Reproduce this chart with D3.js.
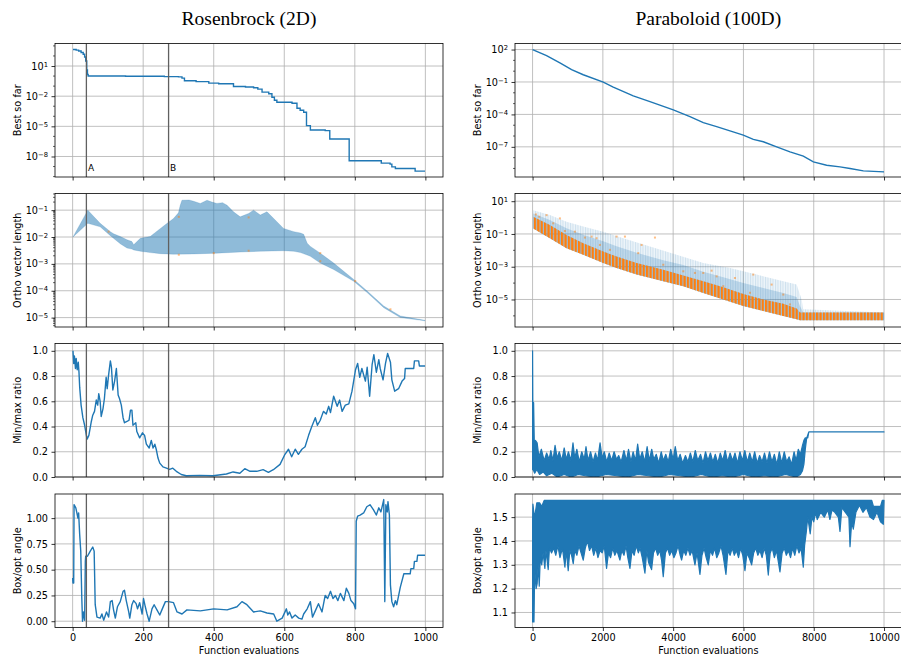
<!DOCTYPE html>
<html lang="en">
<head>
    <meta charset="UTF-8">
    <title>Rosenbrock (2D) / Paraboloid (100D)</title>
    <script src="https://cdn.jsdelivr.net/npm/d3@7/dist/d3.min.js"></script>
    <style>
        body { margin: 0; background: #fff; }
        text { font-family: "DejaVu Sans", sans-serif; fill: #000; }
        .title { font-family: "Liberation Serif", serif; font-size: 19.5px; }
    </style>
</head>
<body>
<svg id="main-svg" width="901" height="660" xmlns="http://www.w3.org/2000/svg"></svg>

<script>
    'use strict';

    /* ---------- data ---------- */
    const titles = ['Rosenbrock (2D)', 'Paraboloid (100D)'];
    const rowLabels = ['Best so far', 'Ortho vector length', 'Min/max ratio', 'Box/opt angle'];
    const xLabel = 'Function evaluations';
    const evalTicksLeft = [0, 200, 400, 600, 800, 1000];
    const evalTicksRight = [0, 2000, 4000, 6000, 8000, 10000];
    const markerEvals = [39, 272];
    const markerNames = ['A', 'B'];

    // Rosenbrock, best so far: [evaluation, log10(value)]
    const rbBest = [[1, 2.64], [10, 2.58], [17, 2.5], [24, 2.35], [30, 2.17], [34, 1.9], [37, 1.5], [40, 0.6], [42, 0.15],
        [44, 0.0], [150, -0.02], [260, -0.06], [300, -0.08], [310, -0.2], [317, -0.46], [350, -0.55], [386, -0.7],
        [414, -0.76], [456, -1.03], [490, -1.08], [513, -1.16], [525, -1.3], [537, -1.6], [556, -1.76], [565, -2.1],
        [572, -2.4], [579, -2.6], [622, -2.7], [636, -3.2], [645, -3.4], [655, -3.6], [663, -4.93], [674, -5.36],
        [716, -5.43], [729, -6.26], [784, -8.43], [875, -8.66], [900, -8.76], [905, -9.03], [915, -9.2], [971, -9.46],
        [999, -9.46]];

    // Rosenbrock, ortho vector length band: [evaluation, log10(upper)] and [evaluation, log10(lower)]
    const rbOrthoHi = [[1, -2.0], [43, -1.0], [78, -1.49], [107, -1.8], [116, -1.88], [135, -1.98], [154, -2.1], [168, -2.17],
        [173, -2.29], [192, -2.05], [220, -1.98], [249, -1.68], [268, -1.49], [286, -1.31], [300, -1.1], [305, -0.82],
        [310, -0.63], [330, -0.62], [343, -0.67], [362, -0.75], [381, -0.63], [395, -0.7], [409, -0.75], [425, -0.72],
        [438, -0.82], [456, -1.06], [475, -1.25], [499, -1.12], [513, -1.0], [532, -1.18], [551, -1.06], [570, -1.31],
        [598, -1.68], [627, -1.8], [646, -1.85], [655, -1.9], [665, -2.23], [674, -2.35], [702, -2.6], [740, -2.97],
        [797, -3.58], [835, -4.01], [882, -4.57], [929, -4.94], [999, -5.1]];
    const rbOrthoLo = [[1, -2.0], [43, -1.49], [78, -1.62], [107, -1.95], [116, -2.05], [135, -2.25], [154, -2.41], [168, -2.45],
        [173, -2.48], [192, -2.53], [220, -2.58], [249, -2.62], [286, -2.64], [343, -2.63], [409, -2.6], [475, -2.56],
        [532, -2.53], [598, -2.51], [627, -2.53], [646, -2.58], [665, -2.67], [674, -2.72], [702, -2.97], [740, -3.21],
        [797, -3.65], [835, -4.07], [882, -4.63], [929, -5.0], [999, -5.12]];
    const rbOrthoDots = [[102, -1.8], [301, -1.25], [301, -2.66], [400, -2.6], [499, -1.27], [499, -2.51], [702, -2.6],
        [702, -2.9], [801, -3.64], [901, -4.69]];

    // Rosenbrock, min/max ratio: [evaluation, value]
    const rbRatio = [[1, 1.0], [3, 0.9], [5, 0.96], [8, 0.86], [10, 0.94], [13, 0.85], [16, 0.91], [18, 0.83], [20, 0.71],
        [24, 0.57], [29, 0.47], [34, 0.41], [39, 0.33], [41, 0.3], [46, 0.33], [53, 0.44], [57, 0.49], [62, 0.52],
        [67, 0.61], [71, 0.57], [74, 0.66], [78, 0.6], [81, 0.48], [86, 0.54], [90, 0.62], [95, 0.79], [98, 0.7],
        [102, 0.81], [107, 0.92], [110, 0.87], [114, 0.69], [119, 0.76], [124, 0.86], [129, 0.65], [133, 0.62],
        [138, 0.57], [143, 0.47], [147, 0.43], [154, 0.44], [160, 0.45], [164, 0.53], [168, 0.53], [171, 0.41],
        [179, 0.43], [182, 0.36], [190, 0.31], [198, 0.35], [204, 0.33], [209, 0.26], [217, 0.23], [223, 0.29],
        [228, 0.23], [233, 0.26], [237, 0.22], [242, 0.15], [247, 0.11], [256, 0.08], [266, 0.07], [275, 0.06],
        [284, 0.07], [294, 0.045], [308, 0.02], [322, 0.01], [360, 0.013], [398, 0.01], [436, 0.024], [455, 0.04],
        [474, 0.03], [488, 0.066], [503, 0.045], [522, 0.045], [540, 0.058], [555, 0.037], [569, 0.058], [588, 0.1],
        [602, 0.18], [612, 0.22], [621, 0.16], [631, 0.22], [640, 0.18], [650, 0.22], [659, 0.24], [669, 0.33],
        [678, 0.4], [688, 0.47], [694, 0.41], [702, 0.45], [711, 0.52], [719, 0.5], [726, 0.56], [731, 0.51],
        [740, 0.64], [750, 0.56], [757, 0.61], [764, 0.52], [773, 0.57], [783, 0.58], [792, 0.68], [802, 0.85],
        [808, 0.9], [814, 0.79], [820, 0.86], [830, 0.76], [835, 0.87], [842, 0.64], [849, 0.89], [854, 0.97],
        [861, 0.83], [868, 0.93], [872, 0.86], [880, 0.77], [887, 0.9], [893, 0.98], [901, 0.91], [905, 0.77],
        [913, 0.68], [924, 0.7], [934, 0.76], [941, 0.78], [943, 0.86], [967, 0.86], [969, 0.92], [981, 0.92],
        [983, 0.88], [999, 0.88]];

    // Rosenbrock, box/opt angle: [evaluation, value]
    const rbAngle = [[0, 0.42], [1, 0.37], [3, 0.37], [4, 1.13], [9, 1.1], [12, 1.05], [15, 1.0], [17, 1.05], [20, 0.84],
        [23, 0.68], [26, 0.22], [28, 0.0], [31, 0.09], [34, 0.01], [36, 0.58], [37, 0.63], [42, 0.63], [50, 0.68],
        [57, 0.72], [61, 0.68], [64, 0.16], [69, 0.04], [78, 0.03], [83, 0.07], [88, 0.01], [96, 0.09], [102, 0.04],
        [107, 0.19], [112, 0.2], [116, 0.11], [121, 0.03], [127, 0.14], [135, 0.19], [143, 0.29], [147, 0.3],
        [152, 0.2], [159, 0.09], [162, 0.03], [168, 0.16], [173, 0.2], [180, 0.17], [184, 0.12], [190, 0.18],
        [197, 0.07], [201, 0.22], [206, 0.14], [211, 0.07], [217, 0.0], [225, 0.12], [231, 0.16], [239, 0.11],
        [247, 0.06], [253, 0.11], [263, 0.19], [272, 0.19], [286, 0.18], [296, 0.09], [310, 0.07], [324, 0.11],
        [362, 0.1], [400, 0.12], [438, 0.11], [466, 0.14], [480, 0.19], [494, 0.16], [513, 0.09], [532, 0.1],
        [551, 0.08], [570, 0.07], [579, 0.0], [594, 0.03], [606, 0.12], [610, 0.06], [615, 0.09], [622, 0.03],
        [631, 0.06], [641, 0.03], [650, 0.02], [655, 0.07], [665, 0.12], [674, 0.19], [680, 0.04], [688, 0.1],
        [697, 0.17], [707, 0.09], [716, 0.25], [723, 0.22], [731, 0.29], [738, 0.22], [745, 0.25], [752, 0.2],
        [759, 0.27], [769, 0.2], [776, 0.32], [783, 0.27], [789, 0.2], [797, 0.17], [802, 0.12], [804, 0.97],
        [808, 1.02], [815, 1.03], [825, 1.05], [834, 1.11], [843, 1.13], [853, 1.08], [861, 1.03], [868, 1.1],
        [874, 1.06], [882, 1.18], [885, 0.19], [888, 1.13], [892, 1.06], [894, 1.16], [898, 1.03], [901, 0.35],
        [905, 0.19], [910, 0.14], [915, 0.2], [919, 0.16], [929, 0.33], [939, 0.46], [957, 0.46], [959, 0.51],
        [967, 0.51], [969, 0.58], [976, 0.58], [978, 0.64], [999, 0.64]];

    // Paraboloid, best so far: [evaluation, log10(value)]
    const pbBest = [[0, 2.0], [398, 1.44], [778, 0.76], [1110, 0.14], [1442, -0.33], [2011, -1.01], [2296, -1.47],
        [2865, -2.28], [3340, -2.81], [4004, -3.58], [4478, -4.2], [4858, -4.76], [5237, -5.13], [5617, -5.53],
        [5996, -5.91], [6281, -6.31], [6565, -6.53], [6945, -7.0], [7325, -7.46], [7704, -7.86], [7989, -8.39],
        [8368, -8.7], [8748, -8.85], [9032, -9.0], [9412, -9.22], [10000, -9.32]];

    // Paraboloid, ortho vector length: orange spread (lo/hi) and the blue haze above it, log10 values
    const pbOrangeLo = [[17, -0.66], [492, -1.26], [966, -1.87], [1441, -2.27], [2010, -2.78], [2390, -3.08], [2960, -3.48],
        [3719, -3.89], [4288, -4.19], [4857, -4.6], [5426, -5.0], [5996, -5.4], [6565, -5.71], [7134, -6.01],
        [7513, -6.21], [7608, -6.27], [10000, -6.27]];
    const pbOrangeHi = [[17, 0.05], [492, -0.45], [966, -1.06], [1441, -1.56], [2010, -2.07], [2390, -2.38], [2960, -2.78],
        [3719, -3.18], [4288, -3.53], [4857, -3.89], [5426, -4.25], [5996, -4.66], [6565, -5.0], [7134, -5.26],
        [7513, -5.55], [7608, -5.8], [10000, -5.8]];
    const pbHazeMid = [[17, 0.25], [492, -0.15], [966, -0.65], [1441, -1.05], [2010, -1.45], [2390, -1.75], [2960, -2.15],
        [3719, -2.6], [4288, -2.9], [4857, -3.3], [5426, -3.65], [5996, -4.0], [6565, -4.3], [7134, -4.6],
        [7513, -4.85], [7608, -5.4], [7700, -5.8], [10000, -5.8]];
    const pbHazeTop = [[17, 0.45], [492, 0.15], [966, -0.25], [1441, -0.55], [2010, -0.86], [2580, -1.26], [3340, -1.77],
        [4099, -2.27], [4857, -2.78], [5616, -3.08], [6375, -3.48], [7134, -3.89], [7513, -4.09], [7655, -5.0],
        [7700, -5.6], [10000, -5.8]];
    const pbOrthoDots = [[94, 0.19], [189, 0.05], [398, 0.15], [588, -0.35], [778, -0.05], [920, -0.82], [1204, -0.86],
        [1489, -1.22], [1679, -1.16], [1821, -1.26], [1916, -1.67], [2201, -1.97], [2390, -1.16], [2628, -1.16],
        [3102, -1.67], [3007, -2.17], [3482, -1.22], [3719, -2.88], [4288, -3.28], [4620, -3.38], [4857, -3.38],
        [5094, -3.24], [5237, -3.59], [5426, -4.19], [5758, -3.69], [6280, -3.48], [6802, -4.09], [6186, -4.59],
        [7134, -4.7], [7324, -5.3]];

    // Paraboloid, min/max ratio: upper and lower edge of the noisy trace
    const pbRatioHi = [[0, 0.06], [0, 1.0], [12, 0.3], [30, 0.59], [50, 0.25], [80, 0.29], [130, 0.27], [180, 0.16],
        [250, 0.22], [330, 0.13], [400, 0.19], [470, 0.14], [520, 0.21], [580, 0.13], [640, 0.25], [700, 0.15],
        [760, 0.2], [830, 0.13], [900, 0.23], [960, 0.14], [1020, 0.2], [1090, 0.13], [1150, 0.27], [1200, 0.15],
        [1260, 0.22], [1330, 0.12], [1400, 0.2], [1470, 0.14], [1520, 0.24], [1580, 0.13], [1650, 0.2], [1720, 0.12],
        [1790, 0.19], [1850, 0.13], [1920, 0.27], [1980, 0.15], [2040, 0.2], [2110, 0.12], [2180, 0.19], [2250, 0.13],
        [2320, 0.2], [2390, 0.14], [2450, 0.17], [2520, 0.12], [2600, 0.21], [2670, 0.13], [2730, 0.22], [2800, 0.12],
        [2860, 0.2], [2930, 0.13], [2990, 0.26], [3050, 0.14], [3120, 0.2], [3190, 0.12], [3260, 0.24], [3320, 0.13],
        [3390, 0.22], [3450, 0.14], [3520, 0.18], [3590, 0.11], [3660, 0.2], [3720, 0.13], [3790, 0.18], [3860, 0.12],
        [3930, 0.22], [4000, 0.14], [4060, 0.24], [4130, 0.13], [4200, 0.18], [4270, 0.11], [4350, 0.17], [4420, 0.12],
        [4490, 0.19], [4560, 0.12], [4630, 0.21], [4700, 0.13], [4780, 0.18], [4850, 0.11], [4920, 0.2], [4990, 0.13],
        [5060, 0.19], [5130, 0.12], [5200, 0.18], [5270, 0.11], [5340, 0.19], [5410, 0.13], [5480, 0.21], [5550, 0.12],
        [5620, 0.19], [5690, 0.13], [5760, 0.19], [5830, 0.11], [5900, 0.2], [5970, 0.13], [6040, 0.21], [6110, 0.12],
        [6180, 0.19], [6250, 0.12], [6320, 0.2], [6390, 0.11], [6460, 0.17], [6530, 0.12], [6600, 0.19], [6670, 0.11],
        [6740, 0.2], [6810, 0.12], [6880, 0.18], [6950, 0.1], [7020, 0.2], [7090, 0.11], [7160, 0.2], [7230, 0.12],
        [7300, 0.16], [7370, 0.1], [7440, 0.2], [7500, 0.13], [7560, 0.22], [7620, 0.18], [7680, 0.25], [7720, 0.29],
        [7760, 0.31], [7830, 0.31], [7860, 0.357], [10000, 0.357]];
    const pbRatioLo = [[0, 0.06], [30, 0.05], [60, 0.03], [120, 0.06], [200, 0.02], [300, 0.04], [400, 0.01], [550, 0.03],
        [700, 0.0], [900, 0.02], [1100, 0.0], [1300, 0.02], [1500, 0.01], [1800, 0.0], [2100, 0.02], [2400, 0.01],
        [2700, 0.0], [3000, 0.02], [3300, 0.01], [3600, 0.0], [3900, 0.02], [4200, 0.01], [4500, 0.0], [4800, 0.02],
        [5100, 0.0], [5400, 0.01], [5700, 0.0], [6000, 0.02], [6300, 0.0], [6600, 0.01], [6900, 0.0], [7200, 0.02],
        [7500, 0.0], [7620, 0.02], [7680, 0.05], [7720, 0.1], [7760, 0.22], [7800, 0.31], [7860, 0.357]];

    // Paraboloid, box/opt angle: upper and lower edge of the noisy trace
    const pbAngleHi = [[0, 1.06], [0, 1.48], [10, 1.555], [50, 1.5], [80, 1.52], [120, 1.56], [200, 1.56], [260, 1.545],
        [330, 1.57], [9650, 1.57], [9700, 1.545], [9900, 1.545], [9950, 1.57], [10000, 1.57]];
    const pbAngleLo = [[0, 1.06], [40, 1.06], [60, 1.28], [100, 1.2], [130, 1.22], [160, 1.3], [190, 1.21], [220, 1.33],
        [260, 1.3], [300, 1.35], [350, 1.285], [380, 1.36], [445, 1.28], [480, 1.37], [540, 1.35], [600, 1.37],
        [660, 1.34], [720, 1.38], [780, 1.33], [850, 1.37], [920, 1.29], [960, 1.36], [1014, 1.275], [1060, 1.36],
        [1110, 1.34], [1157, 1.305], [1200, 1.36], [1260, 1.34], [1320, 1.38], [1380, 1.35], [1441, 1.32], [1500, 1.37],
        [1560, 1.4], [1620, 1.36], [1680, 1.38], [1740, 1.34], [1800, 1.37], [1860, 1.33], [1920, 1.36], [1980, 1.35],
        [2040, 1.38], [2105, 1.285], [2160, 1.35], [2220, 1.33], [2280, 1.37], [2340, 1.34], [2400, 1.36], [2485, 1.32],
        [2540, 1.36], [2600, 1.34], [2660, 1.38], [2710, 1.33], [2770, 1.285], [2830, 1.36], [2890, 1.34], [2950, 1.38],
        [3010, 1.35], [3060, 1.37], [3120, 1.33], [3197, 1.265], [3250, 1.36], [3300, 1.31], [3386, 1.28], [3440, 1.35],
        [3500, 1.37], [3560, 1.34], [3620, 1.36], [3670, 1.32], [3718, 1.25], [3780, 1.35], [3840, 1.37], [3900, 1.34],
        [3960, 1.36], [4020, 1.33], [4080, 1.35], [4140, 1.38], [4200, 1.34], [4240, 1.32], [4300, 1.36], [4360, 1.34],
        [4420, 1.37], [4480, 1.34], [4540, 1.36], [4620, 1.3], [4680, 1.35], [4762, 1.26], [4820, 1.34], [4880, 1.37],
        [4940, 1.33], [4999, 1.3], [5060, 1.36], [5120, 1.34], [5180, 1.37], [5240, 1.33], [5300, 1.35], [5360, 1.38],
        [5420, 1.34], [5502, 1.26], [5560, 1.36], [5620, 1.34], [5680, 1.37], [5740, 1.34], [5800, 1.36], [5860, 1.33],
        [5920, 1.37], [5980, 1.34], [6043, 1.275], [6100, 1.35], [6160, 1.33], [6233, 1.3], [6290, 1.35], [6350, 1.37],
        [6410, 1.34], [6470, 1.36], [6530, 1.33], [6590, 1.37], [6650, 1.34], [6707, 1.257], [6760, 1.35], [6820, 1.37],
        [6880, 1.33], [6940, 1.36], [7039, 1.27], [7100, 1.35], [7160, 1.37], [7220, 1.34], [7280, 1.36], [7340, 1.33],
        [7400, 1.37], [7460, 1.34], [7520, 1.38], [7580, 1.35], [7640, 1.37], [7703, 1.29], [7740, 1.38], [7790, 1.44],
        [7830, 1.5], [7900, 1.43], [7950, 1.5], [8000, 1.48], [8050, 1.52], [8100, 1.49], [8200, 1.52], [8300, 1.5],
        [8400, 1.53], [8460, 1.49], [8520, 1.53], [8600, 1.52], [8700, 1.5], [8747, 1.44], [8800, 1.54], [8900, 1.52],
        [9000, 1.5], [9032, 1.376], [9080, 1.48], [9126, 1.45], [9200, 1.52], [9300, 1.55], [9400, 1.52], [9500, 1.54],
        [9600, 1.5], [9700, 1.49], [9800, 1.52], [9900, 1.48], [9980, 1.47], [10000, 1.57]];

    /* ---------- layout ---------- */
    const svg = d3.select('#main-svg');
    const blue = '#1f77b4', orange = '#ff7f0e';
    const cols = [
        {x0: 55, x1: 443, dom: [-50, 1050], ticks: evalTicksLeft},
        {x0: 515, x1: 901.6, dom: [-500, 10500], ticks: evalTicksRight}
    ];
    const rowTop = [43.5, 193.5, 343.5, 494];
    const rowH = 133.5;
    const fs = 9.7;

    const defs = svg.append('defs');
    /* orange comb: the orange markers stack up as vertical bars, one per iteration */
    defs.append('pattern').attr('id', 'comb').attr('patternUnits', 'userSpaceOnUse')
        .attr('width', 3.4).attr('height', 10)
        .append('rect').attr('width', 2.3).attr('height', 10).attr('fill', orange);
    /* streaky haze for the blue ortho lines */
    defs.append('pattern').attr('id', 'streak').attr('patternUnits', 'userSpaceOnUse')
        .attr('width', 2.5).attr('height', 10)
        .append('rect').attr('width', 1).attr('height', 10).attr('fill', blue);

    const supMinus = e => (e < 0 ? '\u2212' + (-e) : '' + e);
    const toPts = (arr, x, y, log) => arr.map(d => [x(d[0]), y(log ? Math.pow(10, d[1]) : d[1])]);

    function panel(p) {
        const c = cols[p.col];
        const top = rowTop[p.row], bottom = top + rowH;
        const x = d3.scaleLinear().domain(c.dom).range([c.x0, c.x1]);
        const y = p.log
            ? d3.scaleLog().domain([Math.pow(10, p.dom[0]), Math.pow(10, p.dom[1])]).range([bottom, top])
            : d3.scaleLinear().domain(p.dom).range([bottom, top]);
        const g = svg.append('g');
        const id = 'clip' + p.col + p.row;
        defs.append('clipPath').attr('id', id).append('rect')
            .attr('x', c.x0).attr('y', top).attr('width', c.x1 - c.x0).attr('height', rowH);

        // grid
        const yTickVals = p.log ? p.ticks.map(e => Math.pow(10, e)) : p.ticks;
        const grid = g.append('g').attr('stroke', '#b0b0b0').attr('stroke-width', 0.8);
        grid.selectAll('.gx').data(c.ticks).enter().append('line')
            .attr('x1', d => x(d)).attr('x2', d => x(d)).attr('y1', top).attr('y2', bottom);
        grid.selectAll('.gy').data(yTickVals).enter().append('line')
            .attr('x1', c.x0).attr('x2', c.x1).attr('y1', d => y(d)).attr('y2', d => y(d));

        const plot = g.append('g').attr('clip-path', 'url(#' + id + ')');
        p.draw(plot, x, y);

        // A / B markers on the Rosenbrock side
        if (p.col === 0) {
            plot.selectAll('.mk').data(markerEvals).enter().append('line')
                .attr('x1', d => x(d)).attr('x2', d => x(d)).attr('y1', top).attr('y2', bottom)
                .attr('stroke', '#606060').attr('stroke-width', 1.3);
            if (p.row === 0) {
                g.selectAll('.mkl').data(markerEvals).enter().append('text')
                    .attr('x', d => x(d) + 1.5).attr('y', bottom - 6)
                    .attr('font-size', 9).text((d, i) => markerNames[i]);
            }
        }

        // axes
        const xAxis = d3.axisBottom(x).tickValues(c.ticks).tickSize(3.5).tickPadding(3.5)
            .tickFormat(p.row === 3 ? d3.format('d') : '');
        const gx = g.append('g').attr('transform', 'translate(0,' + bottom + ')').call(xAxis);
        const yAxis = d3.axisLeft(y).tickValues(yTickVals).tickSize(3.5).tickPadding(3.5)
            .tickFormat(p.log ? '' : d3.format(p.fmt));
        const gy = g.append('g').attr('transform', 'translate(' + c.x0 + ',0)').call(yAxis);
        [gx, gy].forEach(a => {
            a.attr('font-family', '"DejaVu Sans", sans-serif').attr('font-size', fs);
            a.select('.domain').remove();
            a.selectAll('.tick line').attr('stroke', '#000').attr('stroke-width', 0.8);
        });
        if (p.log) {
            gy.selectAll('.tick text').each(function (d) {
                const t = d3.select(this);
                const e = Math.round(Math.log10(d));
                t.text('10');
                t.append('tspan').attr('dy', '-0.45em').attr('font-size', fs * 0.7).text(supMinus(e));
            });
            // minor ticks
            const minor = [];
            for (let e = Math.floor(p.dom[0]); e <= Math.ceil(p.dom[1]); e++) {
                if (p.subs) {
                    p.subs.forEach(s => minor.push(s * Math.pow(10, e)));
                } else if (p.ticks.indexOf(e) < 0) {
                    minor.push(Math.pow(10, e));
                }
            }
            gy.selectAll('.minor').data(minor.filter(v => y(v) >= top && y(v) <= bottom)).enter().append('line')
                .attr('x1', -2).attr('x2', 0).attr('y1', d => y(d)).attr('y2', d => y(d))
                .attr('stroke', '#000').attr('stroke-width', 0.6);
        }

        // spines
        g.append('rect').attr('x', c.x0).attr('y', top).attr('width', c.x1 - c.x0).attr('height', rowH)
            .attr('fill', 'none').attr('stroke', '#000').attr('stroke-width', 0.8);

        // y label
        g.append('text').attr('transform', 'translate(' + (c.x0 - 34) + ',' + (top + rowH / 2) + ') rotate(-90)')
            .attr('text-anchor', 'middle').attr('font-size', fs).text(rowLabels[p.row]);
        if (p.row === 3) {
            g.append('text').attr('x', (c.x0 + c.x1) / 2).attr('y', 654).attr('text-anchor', 'middle')
                .attr('font-size', fs).text(xLabel);
        }
    }

    const line = d3.line();
    const poly = pts => line(pts) + 'Z';

    /* ---------- Rosenbrock ---------- */
    panel({col: 0, row: 0, log: true, dom: [-10.04, 3.24], ticks: [1, -2, -5, -8], draw: (g, x, y) => {
        g.append('path').attr('d', d3.line().curve(d3.curveStepAfter)(toPts(rbBest, x, y, true)))
            .attr('fill', 'none').attr('stroke', blue).attr('stroke-width', 1.4);
    }});
    panel({col: 0, row: 1, log: true, dom: [-5.35, -0.38], ticks: [-1, -2, -3, -4, -5], subs: [2, 3, 4, 5, 6, 7, 8, 9],
        draw: (g, x, y) => {
            const pts = toPts(rbOrthoHi, x, y, true).concat(toPts(rbOrthoLo, x, y, true).reverse());
            g.append('path').attr('d', poly(pts)).attr('fill', blue).attr('fill-opacity', 0.5)
                .attr('stroke', blue).attr('stroke-opacity', 0.3).attr('stroke-width', 0.6);
            g.selectAll('.dot').data(toPts(rbOrthoDots, x, y, true)).enter().append('rect')
                .attr('x', d => d[0] - 1).attr('y', d => d[1] - 1).attr('width', 2).attr('height', 2)
                .attr('fill', orange).attr('fill-opacity', 0.5);
        }});
    panel({col: 0, row: 2, log: false, dom: [0, 1.058], ticks: [0, 0.2, 0.4, 0.6, 0.8, 1.0], fmt: '.1f', draw: (g, x, y) => {
        g.append('path').attr('d', line(toPts(rbRatio, x, y, false)))
            .attr('fill', 'none').attr('stroke', blue).attr('stroke-width', 1.4).attr('stroke-linejoin', 'round');
    }});
    panel({col: 0, row: 3, log: false, dom: [-0.061, 1.234], ticks: [0, 0.25, 0.5, 0.75, 1.0], fmt: '.2f', draw: (g, x, y) => {
        g.append('path').attr('d', line(toPts(rbAngle, x, y, false)))
            .attr('fill', 'none').attr('stroke', blue).attr('stroke-width', 1.4).attr('stroke-linejoin', 'round');
    }});

    /* ---------- Paraboloid ---------- */
    panel({col: 1, row: 0, log: true, dom: [-9.79, 2.56], ticks: [2, -1, -4, -7], draw: (g, x, y) => {
        g.append('path').attr('d', line(toPts(pbBest, x, y, true)))
            .attr('fill', 'none').attr('stroke', blue).attr('stroke-width', 1.4);
    }});
    panel({col: 1, row: 1, log: true, dom: [-6.68, 1.47], ticks: [1, -1, -3, -5], draw: (g, x, y) => {
        const lo = toPts(pbOrangeLo, x, y, true).reverse();
        g.append('path').attr('d', poly(toPts(pbHazeTop, x, y, true).concat(lo)))
            .attr('fill', 'url(#streak)').attr('fill-opacity', 0.15);
        g.append('path').attr('d', poly(toPts(pbHazeTop, x, y, true).concat(lo)))
            .attr('fill', blue).attr('fill-opacity', 0.08);
        g.append('path').attr('d', poly(toPts(pbHazeMid, x, y, true).concat(lo)))
            .attr('fill', blue).attr('fill-opacity', 0.22);
        g.append('path').attr('d', poly(toPts(pbOrangeHi, x, y, true).concat(lo)))
            .attr('fill', blue).attr('fill-opacity', 0.2);
        g.append('path').attr('d', poly(toPts(pbOrangeHi, x, y, true).concat(lo)))
            .attr('fill', 'url(#comb)');
        g.selectAll('.dot').data(toPts(pbOrthoDots, x, y, true)).enter().append('rect')
            .attr('x', d => d[0] - 1).attr('y', d => d[1] - 1).attr('width', 2).attr('height', 2)
            .attr('fill', orange).attr('fill-opacity', 0.5);
    }});
    panel({col: 1, row: 2, log: false, dom: [0, 1.058], ticks: [0, 0.2, 0.4, 0.6, 0.8, 1.0], fmt: '.1f', draw: (g, x, y) => {
        const pts = toPts(pbRatioHi, x, y, false).concat(toPts(pbRatioLo, x, y, false).reverse());
        g.append('path').attr('d', poly(pts)).attr('fill', blue)
            .attr('stroke', blue).attr('stroke-width', 1.2).attr('stroke-linejoin', 'round');
    }});
    panel({col: 1, row: 3, log: false, dom: [1.037, 1.597], ticks: [1.1, 1.2, 1.3, 1.4, 1.5], fmt: '.1f', draw: (g, x, y) => {
        const pts = toPts(pbAngleHi, x, y, false).concat(toPts(pbAngleLo, x, y, false).reverse());
        g.append('path').attr('d', poly(pts)).attr('fill', blue)
            .attr('stroke', blue).attr('stroke-width', 1.2).attr('stroke-linejoin', 'round');
    }});

    // column titles
    svg.selectAll('.title').data(titles).enter().append('text')
        .attr('class', 'title')
        .attr('x', (d, i) => (cols[i].x0 + cols[i].x1) / 2)
        .attr('y', 25)
        .attr('text-anchor', 'middle')
        .text(d => d);
</script>
</body>
</html>
